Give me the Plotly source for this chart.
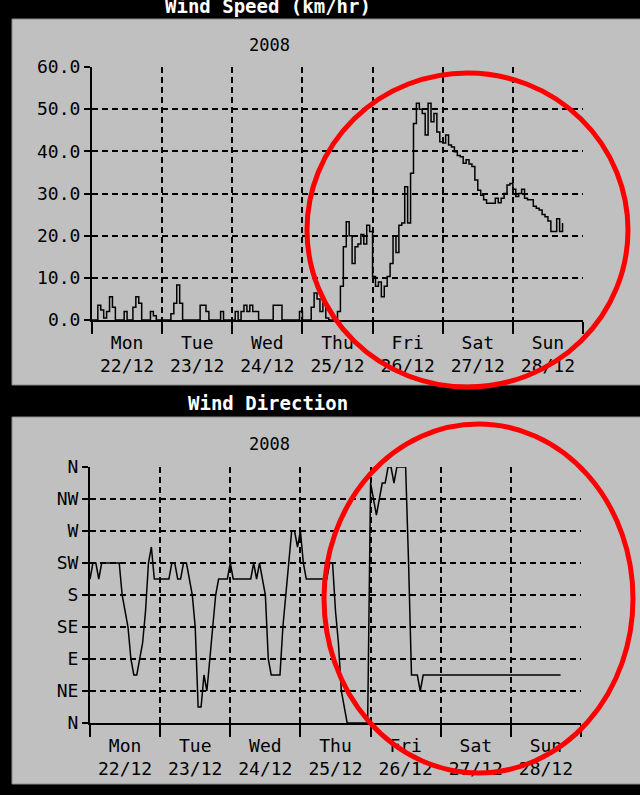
import pandas as pd
import plotly.graph_objects as go

W, H = 640, 795

# ---------------- data ----------------
start = "2008-12-22 00:00"
day_labels = ["Mon<br>22/12", "Tue<br>23/12", "Wed<br>24/12", "Thu<br>25/12",
              "Fri<br>26/12", "Sat<br>27/12", "Sun<br>28/12"]
year_label = "2008"

speed_kmh = [
    0, 0, 3.5, 2.4, 0.5, 2, 5.5, 3, 0, 0, 0, 2,
    0, 0, 3, 5.5, 4, 0, 0, 0, 2, 1, 0, 0,
    0, 0, 0, 1.5, 4, 8.3, 4, 0, 0, 0, 0, 0,
    0, 3.5, 3.5, 2, 0, 0, 0, 0, 2, 0, 0, 0,
    0, 2, 0, 2, 3.5, 2, 3.5, 2, 2, 0, 0, 0,
    0, 0, 3.5, 3.5, 3.5, 0, 0, 0, 0, 0, 0, 2,
    0, 0, 0, 3, 6.4, 5, 2, 4, 0.5, 0, 0, 0,
    2, 8, 17.4, 23.3, 20, 13.4, 17.4, 18, 20.3, 18, 22.5, 21,
    10.3, 8, 9, 5.5, 8, 10.3, 13.4, 20, 16, 22.5, 23, 31.6,
    23, 34.8, 46.6, 51.4, 50, 49, 43.9, 51.4, 47, 49, 44.6, 42.3,
    42, 43.9, 41.5, 41, 39.9, 39, 38.7, 37.2, 38, 37, 36.4, 33.2,
    30.8, 29.6, 28.5, 27.7, 27.7, 27.7, 28.9, 27.8, 28.9, 30, 32, 32.4,
    31, 29.3, 30, 31, 28.9, 28.5, 28.5, 27, 26.5, 26.1, 25, 24.5,
    23.5, 21, 21, 24, 21, 23,
]

direction_deg = [
    202.5, 225, 225, 202.5, 225, 225, 225, 225, 225, 225, 225, 180,
    157.5, 135, 90, 67.5, 67.5, 90, 112.5, 157.5, 225, 247.5, 202.5, 202.5,
    202.5, 202.5, 202.5, 202.5, 225, 225, 202.5, 202.5, 225, 225, 202.5, 180,
    135, 22.5, 22.5, 67.5, 45, 90, 135, 180, 202.5, 202.5, 202.5, 202.5,
    225, 202.5, 202.5, 202.5, 202.5, 202.5, 202.5, 202.5, 225, 202.5, 225, 202.5,
    180, 90, 67.5, 67.5, 67.5, 67.5, 135, 180, 225, 270, 270, 247.5,
    270, 225, 202.5, 202.5, 202.5, 202.5, 202.5, 202.5, 202.5, 202.5, 225, 225,
    157.5, 112.5, 45, 22.5, 0, 0, 0, 0, 0, 0, 0, 0,
    337.5, 315, 292.5, 315, 337.5, 337.5, 360, 360, 337.5, 360, 360, 360,
    360, 225, 67.5, 67.5, 67.5, 45, 67.5, 67.5, 67.5, 67.5, 67.5, 67.5,
    67.5, 67.5, 67.5, 67.5, 67.5, 67.5, 67.5, 67.5, 67.5, 67.5, 67.5, 67.5,
    67.5, 67.5, 67.5, 67.5, 67.5, 67.5, 67.5, 67.5, 67.5, 67.5, 67.5, 67.5,
    67.5, 67.5, 67.5, 67.5, 67.5, 67.5, 67.5, 67.5, 67.5, 67.5, 67.5, 67.5,
    67.5, 67.5, 67.5, 67.5, 67.5, 67.5,
]

dir_tickvals = [0, 45, 90, 135, 180, 225, 270, 315, 360]
dir_ticktext = ["N", "NE", "E", "SE", "S", "SW", "W", "NW", "N"]

times_speed = pd.date_range(start, periods=len(speed_kmh), freq="h")
times_dir = pd.date_range(start, periods=len(direction_deg), freq="h")
day_bounds = pd.date_range(start, periods=8, freq="D")
day_noons = day_bounds[:-1] + pd.Timedelta(hours=12)

# ---------------- helpers ----------------
def px(x):
    return x / W

def py(y):
    return 1 - y / H

FONT = "DejaVu Sans Mono"
GRID = dict(showgrid=True, gridcolor="black", griddash="6px,4px", gridwidth=1.5)


def xaxis_cfg(x0, x1, anchor):
    return dict(
        domain=[px(x0), px(x1)], anchor=anchor, type="date", automargin=False,
        range=[day_bounds[0], day_bounds[-1]],
        tickmode="array", tickvals=list(day_noons), ticktext=day_labels,
        showgrid=False, ticks="outside", ticklen=5, tickcolor="rgba(0,0,0,0)",
        minor=dict(tickmode="array", tickvals=list(day_bounds), ticks="outside",
                   ticklen=12, tickwidth=2, tickcolor="black", **GRID),
        showline=True, linecolor="black", linewidth=2, zeroline=False,
        tickfont=dict(family=FONT, size=18, color="black"), fixedrange=True,
    )


def yaxis_cfg(y0, y1, anchor, **kw):
    return dict(
        domain=[py(y0), py(y1)], anchor=anchor, automargin=False,
        ticks="outside", ticklen=6, tickwidth=2, tickcolor="black",
        showline=True, linecolor="black", linewidth=2, zeroline=False,
        tickfont=dict(family=FONT, size=18, color="black"),
        fixedrange=True, **GRID, **kw,
    )


fig = go.Figure()
fig.add_trace(go.Scatter(x=times_speed, y=speed_kmh, mode="lines",
                         line=dict(color="black", width=1.5, shape="hv"),
                         xaxis="x", yaxis="y", showlegend=False))
fig.add_trace(go.Scatter(x=times_dir, y=direction_deg, mode="lines",
                         line=dict(color="black", width=1.5),
                         xaxis="x2", yaxis="y2", showlegend=False))

shapes = [
    dict(type="rect", xref="paper", yref="paper", x0=px(12), x1=px(660),
         y0=py(385), y1=py(19), fillcolor="#c0c0c0",
         line=dict(color="#8a8a8a", width=1), layer="below"),
    dict(type="rect", xref="paper", yref="paper", x0=px(12), x1=px(660),
         y0=py(784), y1=py(417), fillcolor="#c0c0c0",
         line=dict(color="#8a8a8a", width=1), layer="below"),
    dict(type="circle", xref="paper", yref="paper", x0=px(307), x1=px(628),
         y0=py(387), y1=py(73), line=dict(color="#ff0000", width=5), layer="above"),
    dict(type="circle", xref="paper", yref="paper", x0=px(324), x1=px(633),
         y0=py(773), y1=py(424), line=dict(color="#ff0000", width=5), layer="above"),
]

annotations = [
    dict(text="<b>Wind Speed (km/hr)</b>", x=px(268), y=py(6), xref="paper", yref="paper",
         showarrow=False, xanchor="center", yanchor="middle",
         font=dict(family=FONT, size=19, color="white")),
    dict(text="<b>Wind Direction</b>", x=px(268), y=py(403), xref="paper", yref="paper",
         showarrow=False, xanchor="center", yanchor="middle",
         font=dict(family=FONT, size=19, color="white")),
    dict(text=year_label, x=px(269), y=py(45.5), xref="paper", yref="paper",
         showarrow=False, xanchor="center", yanchor="middle",
         font=dict(family=FONT, size=17, color="black")),
    dict(text=year_label, x=px(269), y=py(443.5), xref="paper", yref="paper",
         showarrow=False, xanchor="center", yanchor="middle",
         font=dict(family=FONT, size=17, color="black")),
]

fig.update_layout(
    width=W, height=H, margin=dict(l=0, r=0, t=0, b=0, pad=0), autosize=False,
    paper_bgcolor="black", plot_bgcolor="rgba(0,0,0,0)",
    showlegend=False, shapes=shapes, annotations=annotations,
    xaxis=xaxis_cfg(92, 583, "y"),
    yaxis=yaxis_cfg(320, 67, "x", range=[0, 60], tickmode="linear", tick0=0,
                    dtick=10, tickformat=".1f"),
    xaxis2=xaxis_cfg(90, 581, "y2"),
    yaxis2=yaxis_cfg(723, 467, "x2", range=[0, 360], tickmode="array",
                     tickvals=dir_tickvals, ticktext=dir_ticktext),
)

fig.write_html(
    "out.html",
    config={"displayModeBar": False, "staticPlot": False},
    post_script="document.body.style.margin='0';"
                "document.documentElement.style.overflow='hidden';"
                "document.body.style.background='black';",
)
